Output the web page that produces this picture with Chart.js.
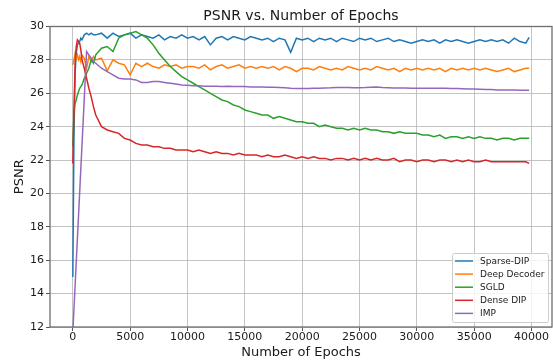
<!DOCTYPE html>
<html>
<head>
<meta charset="utf-8">
<script src="https://cdn.jsdelivr.net/npm/chart.js@4.4.1/dist/chart.umd.min.js"></script>
<style>
  html, body { margin: 0; padding: 0; background: #fff; overflow: hidden; }
  #wrap { width: 553px; height: 360px; }
  canvas { display: block; }
</style>
</head>
<body>
<div id="wrap"><canvas id="psnrChart" width="553" height="360"></canvas></div>
<script>
// PSNR vs. epochs

const epochs = [
    0, 100, 200, 300, 400, 500, 600, 700, 800, 1000, 1200, 1400, 1600, 1800,
    2000, 2500, 3000, 3500, 4000, 4500, 5000, 5500, 6000, 6500,
    7000, 7500, 8000, 8500, 9000, 9500, 10000, 10500, 11000, 11500,
    12000, 12500, 13000, 13500, 14000, 14500, 15000, 15500, 16000, 16500,
    17000, 17500, 18000, 18500, 19000, 19500, 20000, 20500, 21000, 21500,
    22000, 22500, 23000, 23500, 24000, 24500, 25000, 25500, 26000, 26500,
    27000, 27500, 28000, 28500, 29000, 29500, 30000, 30500, 31000, 31500,
    32000, 32500, 33000, 33500, 34000, 34500, 35000, 35500, 36000, 36500,
    37000, 37500, 38000, 38500, 39000, 39500, 39800
];

const sparseDip = [
    15.0, 23.5, 27.2, 28.4, 28.9, 29.0, 29.1, 29.3, 29.2, 29.5, 29.6, 29.5, 29.6, 29.5,
    29.5, 29.6, 29.3, 29.6, 29.4, 29.5, 29.6, 29.3, 29.5, 29.4,
    29.3, 29.5, 29.2, 29.4, 29.3, 29.5, 29.3, 29.4, 29.2, 29.4,
    28.9, 29.3, 29.4, 29.2, 29.4, 29.3, 29.2, 29.4, 29.3, 29.2,
    29.3, 29.1, 29.3, 29.2, 28.45, 29.3, 29.2, 29.3, 29.1, 29.3,
    29.2, 29.3, 29.1, 29.3, 29.2, 29.1, 29.3, 29.2, 29.3, 29.1,
    29.2, 29.3, 29.1, 29.2, 29.1, 29.0, 29.1, 29.2, 29.1, 29.2,
    29.0, 29.2, 29.1, 29.2, 29.1, 29.0, 29.1, 29.2, 29.1, 29.2,
    29.1, 29.2, 29.0, 29.3, 29.1, 29.0, 29.35
];

const deepDecoder = [
    27.7, 28.0, 28.4, 28.1, 28.3, 28.0, 28.2, 27.9, 28.3, 28.1, 27.5, 28.2, 27.9, 28.2,
    28.0, 28.1, 27.35, 28.0, 27.8, 27.7, 27.1, 27.8, 27.6, 27.8,
    27.6, 27.5, 27.7, 27.6, 27.7, 27.5, 27.6, 27.6, 27.5, 27.7,
    27.4, 27.6, 27.7, 27.5, 27.6, 27.7, 27.5, 27.6, 27.5, 27.6,
    27.5, 27.6, 27.4, 27.6, 27.5, 27.3, 27.5, 27.5, 27.4, 27.6,
    27.5, 27.4, 27.5, 27.4, 27.6, 27.5, 27.4, 27.5, 27.4, 27.6,
    27.5, 27.4, 27.5, 27.3, 27.5, 27.4, 27.5, 27.4, 27.5, 27.4,
    27.5, 27.3, 27.5, 27.4, 27.5, 27.4, 27.5, 27.4, 27.5, 27.4,
    27.3, 27.4, 27.5, 27.3, 27.4, 27.5, 27.5
];

const sgld = [
    22.8, 24.9, 25.4, 25.6, 25.9, 26.1, 26.3, 26.4, 26.5, 26.9, 27.2, 27.5, 28.0, 27.8,
    28.3, 28.7, 28.8, 28.5, 29.3, 29.5, 29.6, 29.7, 29.5, 29.3,
    28.9, 28.4, 28.0, 27.6, 27.3, 27.0, 26.8, 26.6, 26.4, 26.2,
    26.0, 25.8, 25.6, 25.5, 25.3, 25.2, 25.0, 24.9, 24.8, 24.7,
    24.7, 24.5, 24.6, 24.5, 24.4, 24.3, 24.3, 24.2, 24.2, 24.0,
    24.1, 24.0, 23.9, 23.9, 23.8, 23.9, 23.8, 23.9, 23.8, 23.8,
    23.7, 23.7, 23.6, 23.7, 23.6, 23.6, 23.6, 23.5, 23.5, 23.4,
    23.5, 23.3, 23.4, 23.4, 23.3, 23.4, 23.3, 23.4, 23.3, 23.3,
    23.2, 23.3, 23.3, 23.2, 23.3, 23.3, 23.3
];

const denseDip = [
    21.8, 25.0, 27.8, 28.8, 29.2, 29.1, 29.0, 28.6, 28.0, 27.5, 26.9, 26.3, 25.8, 25.2,
    24.7, 24.0, 23.8, 23.7, 23.6, 23.3, 23.2, 23.0, 22.9, 22.9,
    22.8, 22.8, 22.7, 22.7, 22.6, 22.6, 22.6, 22.5, 22.6, 22.5,
    22.4, 22.5, 22.4, 22.4, 22.3, 22.4, 22.3, 22.3, 22.3, 22.2,
    22.3, 22.2, 22.2, 22.3, 22.2, 22.1, 22.2, 22.1, 22.2, 22.1,
    22.1, 22.0, 22.1, 22.1, 22.0, 22.1, 22.0, 22.1, 22.0, 22.1,
    22.0, 22.0, 22.1, 21.9, 22.0, 22.0, 21.9, 22.0, 22.0, 21.9,
    22.0, 22.0, 21.9, 22.0, 21.9, 22.0, 21.9, 21.9, 22.0, 21.9,
    21.9, 21.9, 21.9, 21.9, 21.9, 21.9, 21.8
];

// IMP was only logged at the start and from ~1200 epochs on
const imp = [
    11.7, null, null, null, null, null, null, null, null, null, 28.5, 28.3, 28.1, 27.9,
    27.8, 27.5, 27.3, 27.1, 26.9, 26.85, 26.85, 26.8, 26.65, 26.65,
    26.7, 26.7, 26.65, 26.6, 26.55, 26.5, 26.48, 26.45, 26.45, 26.42,
    26.42, 26.42, 26.4, 26.42, 26.4, 26.4, 26.4, 26.38, 26.38, 26.37,
    26.36, 26.36, 26.35, 26.33, 26.3, 26.28, 26.28, 26.28, 26.3, 26.3,
    26.32, 26.33, 26.35, 26.35, 26.34, 26.33, 26.33, 26.34, 26.36, 26.38,
    26.34, 26.33, 26.32, 26.32, 26.32, 26.3, 26.3, 26.3, 26.3, 26.3,
    26.3, 26.3, 26.28, 26.28, 26.27, 26.25, 26.25, 26.24, 26.23, 26.22,
    26.2, 26.2, 26.2, 26.19, 26.18, 26.18, 26.18
];

const seriesNames = ['Sparse-DIP', 'Deep Decoder', 'SGLD', 'Dense DIP', 'IMP'];
const seriesValues = [sparseDip, deepDecoder, sgld, denseDip, imp];
const seriesColors = ['#1f77b4', '#ff7f0e', '#2ca02c', '#d62728', '#9467bd'];

const xTicks = [0, 5000, 10000, 15000, 20000, 25000, 30000, 35000, 40000];
const yTicks = [12, 14, 16, 18, 20, 22, 24, 26, 28, 30];

const chartTitle = 'PSNR vs. Number of Epochs';
const xLabel = 'Number of Epochs';
const yLabel = 'PSNR';

const FONT = '"DejaVu Sans", "Liberation Sans", sans-serif';
const gridColor = 'rgba(176, 176, 176, 0.75)';
const tickColor = '#555';
const textColor = '#1a1a1a';

// frame, title and the boxed legend in the lower right corner
const decorPlugin = {
    id: 'decor',
    afterDraw(chart) {
        const { ctx, chartArea: a } = chart;
        ctx.save();

        ctx.strokeStyle = '#6e6e6e';
        ctx.lineWidth = 1.3;
        ctx.strokeRect(a.left, a.top, a.right - a.left, a.bottom - a.top);

        ctx.fillStyle = textColor;
        ctx.font = '14px ' + FONT;
        ctx.textAlign = 'center';
        ctx.textBaseline = 'middle';
        ctx.fillText(chartTitle, (a.left + a.right) / 2, a.top - 10.5);

        // legend
        const boxW = 96, rowH = 13.1, boxH = 69;
        const bx = a.right - 4 - boxW;
        const by = a.bottom - 5 - boxH;
        ctx.fillStyle = 'rgba(255,255,255,0.8)';
        ctx.strokeStyle = '#cccccc';
        ctx.lineWidth = 1;
        ctx.beginPath();
        ctx.roundRect(bx + 0.5, by + 0.5, boxW, boxH, 2);
        ctx.fill();
        ctx.stroke();

        ctx.font = '9px ' + FONT;
        ctx.textAlign = 'left';
        seriesNames.forEach((name, i) => {
            const y = by + 8 + i * rowH;
            ctx.strokeStyle = seriesColors[i];
            ctx.lineWidth = 1.5;
            ctx.beginPath();
            ctx.moveTo(bx + 3, y);
            ctx.lineTo(bx + 21, y);
            ctx.stroke();
            ctx.fillStyle = textColor;
            ctx.fillText(name, bx + 28, y + 0.5);
        });

        ctx.restore();
    }
};

function initPsnrChart() {
    const canvas = document.getElementById('psnrChart');
    if (!canvas) return;

    const datasets = seriesNames.map((name, i) => ({
        label: name,
        data: epochs.map((e, j) => ({ x: e, y: seriesValues[i][j] })),
        borderColor: seriesColors[i],
        backgroundColor: seriesColors[i],
        borderWidth: 1.5,
        pointRadius: 0,
        tension: 0,
        spanGaps: true,
        order: seriesNames.length - i
    }));

    new Chart(canvas.getContext('2d'), {
        type: 'line',
        data: { datasets },
        options: {
            responsive: false,
            animation: false,
            layout: {
                padding: { top: 26.5, right: 1, bottom: 0, left: 0 }
            },
            plugins: {
                legend: { display: false },
                title: { display: false },
                tooltip: { enabled: false }
            },
            scales: {
                x: {
                    type: 'linear',
                    min: -1990,
                    max: 41790,
                    afterBuildTicks: (scale) => {
                        scale.ticks = xTicks.map(v => ({ value: v }));
                    },
                    afterFit: (scale) => { scale.height = 33; },
                    grid: { color: gridColor, lineWidth: 1, tickColor: tickColor, tickLength: 4 },
                    border: { display: false },
                    ticks: {
                        color: textColor,
                        padding: 0,
                        maxRotation: 0,
                        font: { family: FONT, size: 11 },
                        callback: (v) => String(v)
                    },
                    title: {
                        display: true,
                        text: xLabel,
                        color: textColor,
                        padding: { top: 0, bottom: 0 },
                        font: { family: FONT, size: 13 }
                    }
                },
                y: {
                    min: 12,
                    max: 30,
                    afterBuildTicks: (scale) => {
                        scale.ticks = yTicks.map(v => ({ value: v }));
                    },
                    afterFit: (scale) => { scale.width = 50; },
                    grid: { color: gridColor, lineWidth: 1, tickColor: tickColor, tickLength: 4 },
                    border: { display: false },
                    ticks: {
                        color: textColor,
                        padding: 2,
                        font: { family: FONT, size: 11 }
                    },
                    title: {
                        display: true,
                        text: yLabel,
                        color: textColor,
                        padding: { top: 12, bottom: 12 },
                        font: { family: FONT, size: 13 }
                    }
                }
            }
        },
        plugins: [decorPlugin]
    });
}

document.addEventListener('DOMContentLoaded', initPsnrChart);
</script>
</body>
</html>
